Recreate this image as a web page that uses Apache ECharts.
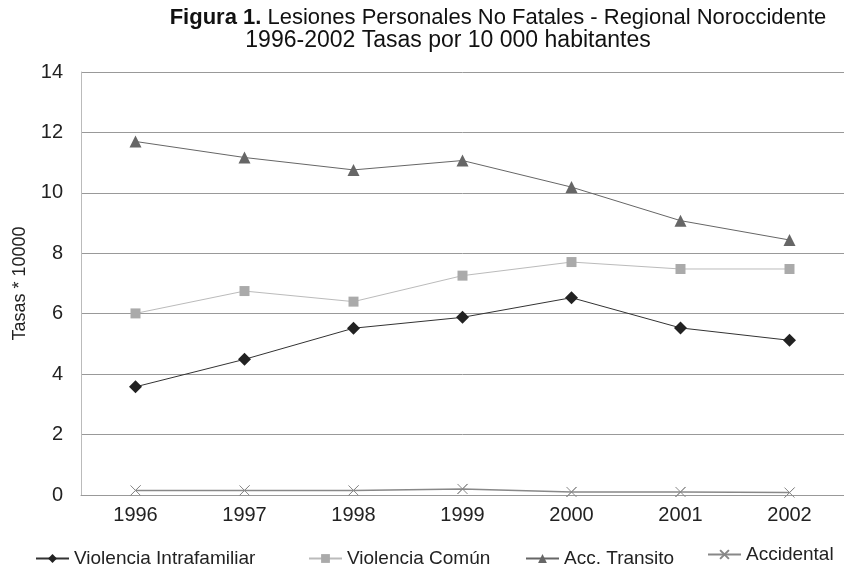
<!DOCTYPE html>
<html>
<head>
<meta charset="utf-8">
<script src="https://cdn.jsdelivr.net/npm/echarts@6/dist/echarts.min.js"></script>
<style>
  html, body { margin: 0; padding: 0; background: #fff; }
  #main { width: 844px; height: 570px; }
</style>
</head>
<body>
<div id="main"></div>
<script>
// años
const years = ['1996', '1997', '1998', '1999', '2000', '2001', '2002']
// tasas por 10 000 habitantes
const intrafamiliar = [3.58, 4.49, 5.52, 5.88, 6.53, 5.53, 5.12]
const comun = [6.01, 6.75, 6.40, 7.26, 7.71, 7.48, 7.48]
const transito = [11.70, 11.17, 10.76, 11.07, 10.19, 9.08, 8.44]
const accidental = [0.15, 0.15, 0.15, 0.2, 0.1, 0.1, 0.08]
const names = ['Violencia Intrafamiliar', 'Violencia Común', 'Acc. Transito', 'Accidental']

const font = 'Liberation Sans'
const xMark = 'path://M0,0L10,10M10,0L0,10Z'

let myChart = echarts.init(document.getElementById('main'))

// una leyenda por serie, para colocarlas como en la figura
const legendLeft = [30, 303, 520, 702]
const legendTop = [544, 544, 544, 540]
let legends = names.map(function (n, i) {
    return {
        data: [n],
        left: legendLeft[i],
        top: legendTop[i],
        itemWidth: 33,
        itemHeight: 11,
        textStyle: { fontFamily: font, fontSize: 19, color: '#222' }
    }
})

let option = {
    backgroundColor: '#fff',
    animation: false,
    textStyle: { fontFamily: font },
    title: [{
        text: '{b|Figura 1.} Lesiones Personales No Fatales - Regional Noroccidente',
        left: 493,
        top: 2,
        textAlign: 'center',
        textStyle: {
            fontFamily: font,
            fontSize: 22,
            fontWeight: 'normal',
            color: '#111',
            rich: {
                b: { fontFamily: font, fontSize: 22, fontWeight: 'bold', color: '#111' }
            }
        }
    }, {
        text: '1996-2002 Tasas por 10 000 habitantes',
        left: 443,
        top: 24,
        textAlign: 'center',
        textStyle: { fontFamily: font, fontSize: 23, fontWeight: 'normal', color: '#111' }
    }],
    legend: legends,
    grid: { left: 81, right: -5, top: 72, bottom: 75 },
    xAxis: {
        type: 'category',
        data: years,
        boundaryGap: true,
        axisLine: { lineStyle: { color: '#999' } },
        axisTick: { show: false },
        axisLabel: { fontFamily: font, fontSize: 20, color: '#222', margin: 10 }
    },
    yAxis: {
        type: 'value',
        min: 0,
        max: 14,
        interval: 2,
        name: 'Tasas * 10000',
        nameLocation: 'middle',
        nameGap: 52,
        nameTextStyle: { fontFamily: font, fontSize: 18, color: '#222' },
        axisLine: { show: true, lineStyle: { color: '#bbb' } },
        axisTick: { show: false },
        axisLabel: { fontFamily: font, fontSize: 20, color: '#222', margin: 18 },
        splitLine: { lineStyle: { color: '#999', width: 1 } }
    },
    series: [{
        name: names[0],
        type: 'line',
        data: intrafamiliar,
        symbol: 'diamond',
        symbolSize: 13,
        lineStyle: { color: '#333', width: 1 },
        itemStyle: { color: '#222' }
    }, {
        name: names[1],
        type: 'line',
        data: comun,
        symbol: 'rect',
        symbolSize: 10,
        lineStyle: { color: '#bbb', width: 1 },
        itemStyle: { color: '#aaa' }
    }, {
        name: names[2],
        type: 'line',
        data: transito,
        symbol: 'triangle',
        symbolSize: 12,
        lineStyle: { color: '#666', width: 1 },
        itemStyle: { color: '#666' }
    }, {
        name: names[3],
        type: 'line',
        data: accidental,
        symbol: xMark,
        symbolSize: 10,
        lineStyle: { color: '#888', width: 1.5 },
        itemStyle: { color: 'none', borderColor: '#888', borderWidth: 1 }
    }]
}

myChart.setOption(option)
</script>
</body>
</html>
